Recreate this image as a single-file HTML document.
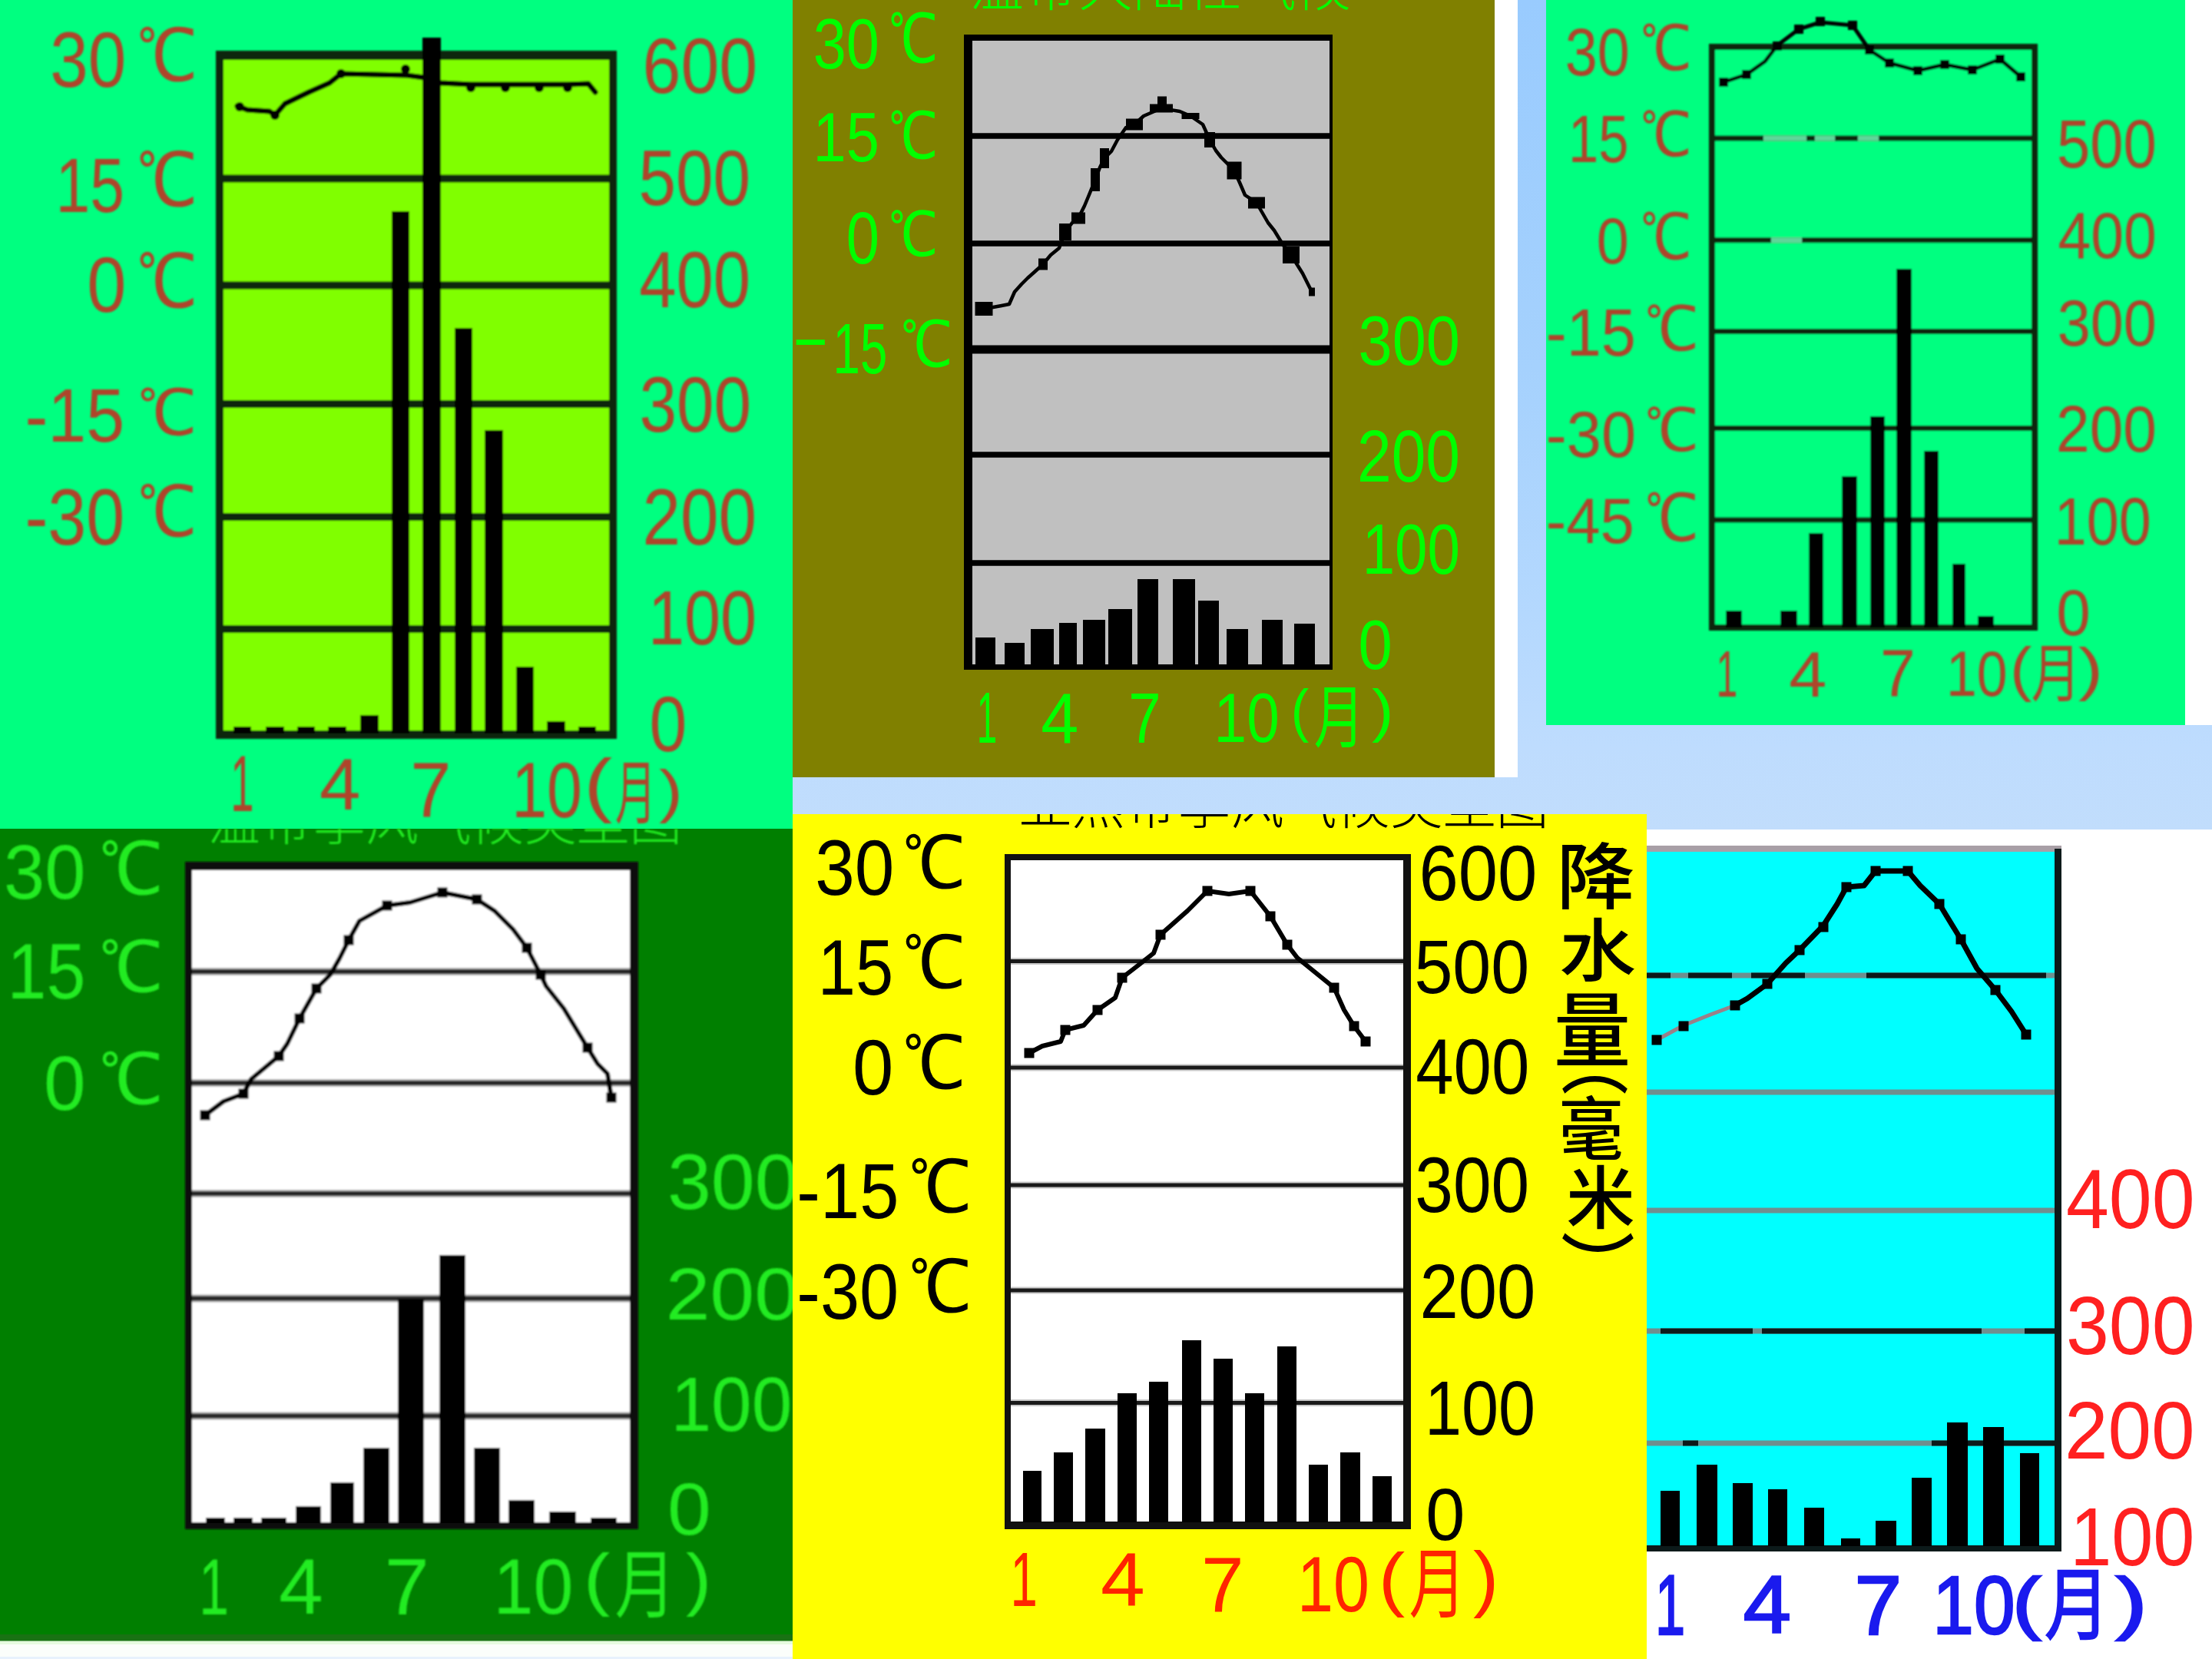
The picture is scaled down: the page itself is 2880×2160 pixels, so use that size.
<!DOCTYPE html>
<html><head><meta charset="utf-8"><title>climate charts</title>
<style>html,body{margin:0;padding:0;background:#fff;overflow:hidden;} svg{display:block;}</style></head>
<body><svg width="2880" height="2160" viewBox="0 0 2880 2160">
<defs><linearGradient id="bg" x1="0" y1="0" x2="0" y2="1"><stop offset="0" stop-color="#99cbfe"/><stop offset="0.222" stop-color="#a5d1fd"/><stop offset="0.37" stop-color="#b4d8fe"/><stop offset="0.45" stop-color="#bedcfe"/><stop offset="0.5" stop-color="#c1ddfc"/><stop offset="1" stop-color="#c8e0fa"/></linearGradient><clipPath id="c0"><rect x="0" y="1079" width="1032" height="1057"/></clipPath><clipPath id="c1"><rect x="1032" y="1060" width="1112" height="1100"/></clipPath><filter id="soft" x="-2%" y="-2%" width="104%" height="104%"><feGaussianBlur stdDeviation="1.3"/></filter><filter id="soft2" x="-2%" y="-2%" width="104%" height="104%"><feGaussianBlur stdDeviation="0.7"/></filter></defs>
<rect x="0" y="0" width="2880" height="2160" fill="url(#bg)" />
<rect x="1946" y="0" width="30" height="1012" fill="#ffffff" />
<rect x="2845" y="0" width="35" height="944" fill="#ffffff" />
<rect x="2144" y="1080" width="736" height="1080" fill="#ffffff" />
<rect x="0" y="2136" width="1032" height="24" fill="#fbfefb" />
<rect x="0" y="2136" width="1032" height="5" fill="#e6fbe0" />
<rect x="0" y="2157" width="1032" height="3" fill="#e8f2fd" />
<rect x="0" y="0" width="1032" height="1079" fill="#00ff80" />
<g filter="url(#soft)">
<rect x="281" y="66" width="522" height="896" fill="#0a280c" />
<rect x="291" y="78" width="502" height="873" fill="#80ff00" />
<rect x="291" y="227.5" width="502" height="10.0" fill="#0a280c" />
<rect x="291" y="366.5" width="502" height="10.0" fill="#0a280c" />
<rect x="291" y="521.0" width="502" height="10.0" fill="#0a280c" />
<rect x="291" y="668.0" width="502" height="10.0" fill="#0a280c" />
<rect x="291" y="814.0" width="502" height="10.0" fill="#0a280c" />
<rect x="304" y="946" width="23" height="9" fill="#000" />
<rect x="346" y="946" width="24" height="9" fill="#000" />
<rect x="387" y="946" width="23" height="9" fill="#000" />
<rect x="427" y="946" width="24" height="9" fill="#000" />
<rect x="469" y="931" width="24" height="24" fill="#000" />
<rect x="510" y="275" width="23" height="680" fill="#000" />
<rect x="550" y="49" width="24" height="906" fill="#000" />
<rect x="592" y="427" width="23" height="528" fill="#000" />
<rect x="631" y="560" width="24" height="395" fill="#000" />
<rect x="672" y="868" width="23" height="87" fill="#000" />
<rect x="712" y="939" width="24" height="16" fill="#000" />
<rect x="753" y="946" width="23" height="9" fill="#000" />
<polyline points="309,138 322,143 351,145 358,150 371,135 402,120 429,108 444,96 530,98 552,101 574,108 613,110 658,110 702,110 739,110 766,109 775,120" fill="none" stroke="#000" stroke-width="7" stroke-linejoin="round" stroke-linecap="round" />
<circle cx="312" cy="139" r="6" fill="#000"/>
<circle cx="358" cy="150" r="6" fill="#000"/>
<circle cx="444" cy="96" r="6" fill="#000"/>
<circle cx="528" cy="90" r="6" fill="#000"/>
<circle cx="613" cy="114" r="6" fill="#000"/>
<circle cx="658" cy="114" r="6" fill="#000"/>
<circle cx="702" cy="114" r="6" fill="#000"/>
<circle cx="739" cy="114" r="6" fill="#000"/>
<text transform="translate(65.3,113.0) scale(0.877,1)" font-size="101.4" fill="#ae452c" font-family="'Liberation Sans',sans-serif" >30</text>
<text transform="translate(178.6,105.1) scale(0.890,1)" font-size="94.8" fill="#ae452c" font-family="'Liberation Sans','WenQuanYi Zen Hei',sans-serif" >℃</text>
<text transform="translate(72.4,276.0) scale(0.805,1)" font-size="100.0" fill="#ae452c" font-family="'Liberation Sans',sans-serif" >15</text>
<text transform="translate(178.6,268.1) scale(0.866,1)" font-size="97.4" fill="#ae452c" font-family="'Liberation Sans','WenQuanYi Zen Hei',sans-serif" >℃</text>
<text transform="translate(113.2,406.0) scale(0.906,1)" font-size="101.4" fill="#ae452c" font-family="'Liberation Sans',sans-serif" >0</text>
<text transform="translate(178.6,400.1) scale(0.866,1)" font-size="97.4" fill="#ae452c" font-family="'Liberation Sans','WenQuanYi Zen Hei',sans-serif" >℃</text>
<text transform="translate(32.4,575.0) scale(0.911,1)" font-size="98.6" fill="#ae452c" font-family="'Liberation Sans',sans-serif" >-15</text>
<text transform="translate(179.7,566.3) scale(0.986,1)" font-size="83.1" fill="#ae452c" font-family="'Liberation Sans','WenQuanYi Zen Hei',sans-serif" >℃</text>
<text transform="translate(32.4,709.0) scale(0.862,1)" font-size="104.2" fill="#ae452c" font-family="'Liberation Sans',sans-serif" >-30</text>
<text transform="translate(179.7,698.2) scale(0.889,1)" font-size="92.2" fill="#ae452c" font-family="'Liberation Sans','WenQuanYi Zen Hei',sans-serif" >℃</text>
<text transform="translate(836.5,121.0) scale(0.873,1)" font-size="102.8" fill="#ae452c" font-family="'Liberation Sans',sans-serif" >600</text>
<text transform="translate(831.5,267.0) scale(0.861,1)" font-size="101.4" fill="#ae452c" font-family="'Liberation Sans',sans-serif" >500</text>
<text transform="translate(832.3,400.0) scale(0.833,1)" font-size="104.2" fill="#ae452c" font-family="'Liberation Sans',sans-serif" >400</text>
<text transform="translate(832.4,562.0) scale(0.850,1)" font-size="102.8" fill="#ae452c" font-family="'Liberation Sans',sans-serif" >300</text>
<text transform="translate(836.5,709.0) scale(0.855,1)" font-size="104.2" fill="#ae452c" font-family="'Liberation Sans',sans-serif" >200</text>
<text transform="translate(844.1,839.0) scale(0.845,1)" font-size="100.0" fill="#ae452c" font-family="'Liberation Sans',sans-serif" >100</text>
<text transform="translate(845.4,978.0) scale(0.865,1)" font-size="101.4" fill="#ae452c" font-family="'Liberation Sans',sans-serif" >0</text>
<text transform="translate(300.2,1056.0) scale(0.523,1)" font-size="104.3" fill="#ae452c" font-family="'Liberation Sans',sans-serif" >1</text>
<text transform="translate(416.1,1054.0) scale(1.019,1)" font-size="94.3" fill="#ae452c" font-family="'Liberation Sans',sans-serif" >4</text>
<text transform="translate(534.2,1064.0) scale(0.943,1)" font-size="101.4" fill="#ae452c" font-family="'Liberation Sans',sans-serif" >7</text>
<text transform="translate(666.2,1064.0) scale(0.813,1)" font-size="101.4" fill="#ae452c" font-family="'Liberation Sans',sans-serif" >10</text>
<text transform="translate(760.3,1053.3) scale(1.187,1)" font-size="93.6" fill="#ae452c" font-family="'Liberation Sans',sans-serif" >(</text>
<text transform="translate(800.9,1064.8) scale(0.584,1)" font-size="90.9" fill="#ae452c" font-family="'Liberation Sans','Noto Sans CJK SC',sans-serif" >月</text>
<text transform="translate(858.0,1055.9) scale(1.212,1)" font-size="76.6" fill="#ae452c" font-family="'Liberation Sans',sans-serif" >)</text>
</g>
<rect x="1032" y="0" width="914" height="1012" fill="#808000" />
<text transform="translate(1262.2,7.7) scale(1.011,1)" font-size="70.2" fill="#00ff00" font-family="'Liberation Sans','Noto Sans CJK SC',sans-serif" font-weight="300" >温带大陆性气候</text>
<rect x="1255" y="45" width="480" height="827" fill="#000" />
<rect x="1266" y="53" width="465" height="812" fill="#c0c0c0" />
<rect x="1266" y="173.25" width="465" height="7.5" fill="#000" />
<rect x="1266" y="313.25" width="465" height="7.5" fill="#000" />
<rect x="1266" y="449.5" width="465" height="11.0" fill="#000" />
<rect x="1266" y="588.25" width="465" height="7.5" fill="#000" />
<rect x="1266" y="729.25" width="465" height="7.5" fill="#000" />
<rect x="1270" y="830" width="26" height="35" fill="#000" />
<rect x="1308" y="837" width="26" height="28" fill="#000" />
<rect x="1342" y="819" width="30" height="46" fill="#000" />
<rect x="1379" y="811" width="23" height="54" fill="#000" />
<rect x="1410" y="807" width="29" height="58" fill="#000" />
<rect x="1443" y="793" width="31" height="72" fill="#000" />
<rect x="1481" y="754" width="27" height="111" fill="#000" />
<rect x="1527" y="754" width="29" height="111" fill="#000" />
<rect x="1560" y="782" width="27" height="83" fill="#000" />
<rect x="1597" y="819" width="28" height="46" fill="#000" />
<rect x="1643" y="807" width="27" height="58" fill="#000" />
<rect x="1685" y="812" width="27" height="53" fill="#000" />
<polyline points="1282,402 1304,398 1314,396 1321,380 1330,370 1338,362 1347,354 1358,344 1368,332 1379,323 1387,302 1396,290 1404,284 1412,268 1417,256 1426,234 1432,218 1438,206 1447,197 1455,182 1466,166 1477,162 1489,151 1512,141 1536,145 1550,151 1566,162 1575,182 1583,196 1590,205 1607,222 1615,240 1621,254 1636,264 1651,290 1659,300 1670,318 1681,332 1696,356 1708,380" fill="none" stroke="#000" stroke-width="4.5" stroke-linejoin="round" stroke-linecap="round" stroke-linejoin="miter" stroke-linecap="square"/>
<rect x="1269.5" y="393.0" width="23.0" height="18.0" fill="#000" />
<rect x="1352.0" y="336.5" width="12.0" height="15.0" fill="#000" />
<rect x="1379.0" y="291.0" width="16.0" height="22.0" fill="#000" />
<rect x="1395.0" y="276.5" width="18.0" height="15.0" fill="#000" />
<rect x="1420.0" y="219.0" width="12.0" height="30.0" fill="#000" />
<rect x="1432.0" y="193.0" width="12.0" height="26.0" fill="#000" />
<rect x="1466.0" y="154.5" width="22.0" height="15.0" fill="#000" />
<rect x="1497.0" y="135.5" width="30.0" height="11.0" fill="#000" />
<rect x="1507.0" y="125.5" width="12.0" height="11.0" fill="#000" />
<rect x="1538.5" y="147.0" width="23.0" height="8.0" fill="#000" />
<rect x="1568.0" y="172.0" width="14.0" height="20.0" fill="#000" />
<rect x="1597.5" y="210.5" width="19.0" height="23.0" fill="#000" />
<rect x="1625.0" y="256.5" width="22.0" height="15.0" fill="#000" />
<rect x="1670.0" y="321.0" width="22.0" height="22.0" fill="#000" />
<rect x="1704.0" y="374.5" width="8.0" height="11.0" fill="#000" />
<text transform="translate(1058.7,89.1) scale(0.833,1)" font-size="93.0" fill="#00ff00" font-family="'Liberation Sans',sans-serif" >30</text>
<text transform="translate(1157.3,81.2) scale(0.778,1)" font-size="88.3" fill="#00ff00" font-family="'Liberation Sans','WenQuanYi Zen Hei',sans-serif" >℃</text>
<text transform="translate(1058.6,210.1) scale(0.848,1)" font-size="91.4" fill="#00ff00" font-family="'Liberation Sans',sans-serif" >15</text>
<text transform="translate(1157.3,206.3) scale(0.814,1)" font-size="84.4" fill="#00ff00" font-family="'Liberation Sans','WenQuanYi Zen Hei',sans-serif" >℃</text>
<text transform="translate(1101.7,343.0) scale(0.810,1)" font-size="95.8" fill="#00ff00" font-family="'Liberation Sans',sans-serif" >0</text>
<text transform="translate(1157.3,333.4) scale(0.853,1)" font-size="80.5" fill="#00ff00" font-family="'Liberation Sans','WenQuanYi Zen Hei',sans-serif" >℃</text>
<text transform="translate(1029.9,469.1) scale(1.737,1)" font-size="87.5" fill="#00ff00" font-family="'Liberation Sans',sans-serif" >-</text>
<text transform="translate(1084.5,486.1) scale(0.685,1)" font-size="92.9" fill="#00ff00" font-family="'Liberation Sans',sans-serif" >15</text>
<text transform="translate(1173.1,477.3) scale(0.870,1)" font-size="83.1" fill="#00ff00" font-family="'Liberation Sans','WenQuanYi Zen Hei',sans-serif" >℃</text>
<text transform="translate(1768.6,475.1) scale(0.866,1)" font-size="91.5" fill="#00ff00" font-family="'Liberation Sans',sans-serif" >300</text>
<text transform="translate(1767.0,627.0) scale(0.826,1)" font-size="97.2" fill="#00ff00" font-family="'Liberation Sans',sans-serif" >200</text>
<text transform="translate(1773.7,747.1) scale(0.819,1)" font-size="93.0" fill="#00ff00" font-family="'Liberation Sans',sans-serif" >100</text>
<text transform="translate(1768.6,871.1) scale(0.883,1)" font-size="90.1" fill="#00ff00" font-family="'Liberation Sans',sans-serif" >0</text>
<text transform="translate(1271.7,967.0) scale(0.507,1)" font-size="94.2" fill="#00ff00" font-family="'Liberation Sans',sans-serif" >1</text>
<text transform="translate(1355.2,967.0) scale(0.950,1)" font-size="92.9" fill="#00ff00" font-family="'Liberation Sans',sans-serif" >4</text>
<text transform="translate(1469.2,967.0) scale(0.819,1)" font-size="92.9" fill="#00ff00" font-family="'Liberation Sans',sans-serif" >7</text>
<text transform="translate(1580.6,966.1) scale(0.836,1)" font-size="91.5" fill="#00ff00" font-family="'Liberation Sans',sans-serif" >10</text>
<text transform="translate(1680.8,950.9) scale(0.919,1)" font-size="76.6" fill="#00ff00" font-family="'Liberation Sans',sans-serif" >(</text>
<text transform="translate(1710.7,965.9) scale(0.729,1)" font-size="89.8" fill="#00ff00" font-family="'Liberation Sans','Noto Sans CJK SC',sans-serif" >月</text>
<text transform="translate(1786.0,950.9) scale(1.119,1)" font-size="76.6" fill="#00ff00" font-family="'Liberation Sans',sans-serif" >)</text>
<rect x="2013" y="0" width="832" height="944" fill="#00ff80" />
<g filter="url(#soft)">
<rect x="2225" y="57" width="428" height="764" fill="#0a280c" />
<rect x="2233" y="65" width="412" height="748" fill="#00ff80" />
<rect x="2233" y="176.5" width="412" height="7.0" fill="#0a280c" />
<rect x="2233" y="309.2" width="412" height="7.0" fill="#0a280c" />
<rect x="2233" y="428.0" width="412" height="7.0" fill="#0a280c" />
<rect x="2233" y="554.0" width="412" height="7.0" fill="#0a280c" />
<rect x="2233" y="673.5" width="412" height="7.0" fill="#0a280c" />
<rect x="2296" y="176.5" width="56" height="7.0" fill="#5fd69a" />
<rect x="2363" y="176.5" width="26" height="7.0" fill="#5fd69a" />
<rect x="2419" y="176.5" width="27" height="7.0" fill="#5fd69a" />
<rect x="2306" y="309.2" width="40" height="7.0" fill="#5fd69a" />
<rect x="2247" y="795" width="21" height="22" fill="#000" />
<rect x="2318" y="795" width="22" height="22" fill="#000" />
<rect x="2355" y="694" width="19" height="123" fill="#000" />
<rect x="2398" y="620" width="20" height="197" fill="#000" />
<rect x="2435" y="542" width="19" height="275" fill="#000" />
<rect x="2469" y="350" width="20" height="467" fill="#000" />
<rect x="2505" y="587" width="19" height="230" fill="#000" />
<rect x="2542" y="734" width="17" height="83" fill="#000" />
<rect x="2575" y="802" width="21" height="15" fill="#000" />
<polyline points="2244,107 2274,97 2298,80 2314,59 2342,38 2370,29 2412,33 2434,65 2460,82 2497,92 2532,84 2568,91 2604,77 2631,100" fill="none" stroke="#000" stroke-width="5" stroke-linejoin="round" stroke-linecap="round" />
<rect x="2238.0" y="101.0" width="12.0" height="12.0" fill="#000" />
<rect x="2268.0" y="91.0" width="12.0" height="12.0" fill="#000" />
<rect x="2308.0" y="54.0" width="12.0" height="12.0" fill="#000" />
<rect x="2336.0" y="32.0" width="12.0" height="12.0" fill="#000" />
<rect x="2364.0" y="22.0" width="12.0" height="12.0" fill="#000" />
<rect x="2406.0" y="27.0" width="12.0" height="12.0" fill="#000" />
<rect x="2428.0" y="59.0" width="12.0" height="12.0" fill="#000" />
<rect x="2454.0" y="76.0" width="12.0" height="12.0" fill="#000" />
<rect x="2491.0" y="86.0" width="12.0" height="12.0" fill="#000" />
<rect x="2526.0" y="78.0" width="12.0" height="12.0" fill="#000" />
<rect x="2562.0" y="85.0" width="12.0" height="12.0" fill="#000" />
<rect x="2598.0" y="71.0" width="12.0" height="12.0" fill="#000" />
<rect x="2625.0" y="94.0" width="12.0" height="12.0" fill="#000" />
<text transform="translate(2037.7,98.1) scale(0.865,1)" font-size="87.3" fill="#ae452c" font-family="'Liberation Sans',sans-serif" >30</text>
<text transform="translate(2136.2,91.4) scale(0.869,1)" font-size="81.8" fill="#ae452c" font-family="'Liberation Sans','WenQuanYi Zen Hei',sans-serif" >℃</text>
<text transform="translate(2042.1,211.1) scale(0.810,1)" font-size="87.1" fill="#ae452c" font-family="'Liberation Sans',sans-serif" >15</text>
<text transform="translate(2136.2,203.4) scale(0.883,1)" font-size="80.5" fill="#ae452c" font-family="'Liberation Sans','WenQuanYi Zen Hei',sans-serif" >℃</text>
<text transform="translate(2078.7,343.1) scale(0.879,1)" font-size="85.9" fill="#ae452c" font-family="'Liberation Sans',sans-serif" >0</text>
<text transform="translate(2136.2,337.3) scale(0.855,1)" font-size="83.1" fill="#ae452c" font-family="'Liberation Sans','WenQuanYi Zen Hei',sans-serif" >℃</text>
<text transform="translate(2012.8,463.1) scale(0.930,1)" font-size="87.1" fill="#ae452c" font-family="'Liberation Sans',sans-serif" >-15</text>
<text transform="translate(2142.0,456.4) scale(0.928,1)" font-size="80.5" fill="#ae452c" font-family="'Liberation Sans','WenQuanYi Zen Hei',sans-serif" >℃</text>
<text transform="translate(2012.8,595.1) scale(0.944,1)" font-size="85.9" fill="#ae452c" font-family="'Liberation Sans',sans-serif" >-30</text>
<text transform="translate(2142.0,587.4) scale(0.959,1)" font-size="77.9" fill="#ae452c" font-family="'Liberation Sans','WenQuanYi Zen Hei',sans-serif" >℃</text>
<text transform="translate(2012.8,707.2) scale(0.958,1)" font-size="83.1" fill="#ae452c" font-family="'Liberation Sans',sans-serif" >-45</text>
<text transform="translate(2142.0,704.3) scale(0.871,1)" font-size="85.7" fill="#ae452c" font-family="'Liberation Sans','WenQuanYi Zen Hei',sans-serif" >℃</text>
<text transform="translate(2677.9,218.1) scale(0.878,1)" font-size="88.7" fill="#ae452c" font-family="'Liberation Sans',sans-serif" >500</text>
<text transform="translate(2679.5,336.1) scale(0.895,1)" font-size="85.9" fill="#ae452c" font-family="'Liberation Sans',sans-serif" >400</text>
<text transform="translate(2678.7,450.1) scale(0.901,1)" font-size="85.9" fill="#ae452c" font-family="'Liberation Sans',sans-serif" >300</text>
<text transform="translate(2677.1,588.2) scale(0.927,1)" font-size="84.5" fill="#ae452c" font-family="'Liberation Sans',sans-serif" >200</text>
<text transform="translate(2674.7,709.1) scale(0.865,1)" font-size="87.3" fill="#ae452c" font-family="'Liberation Sans',sans-serif" >100</text>
<text transform="translate(2677.6,827.1) scale(0.926,1)" font-size="85.9" fill="#ae452c" font-family="'Liberation Sans',sans-serif" >0</text>
<text transform="translate(2234.5,907.0) scale(0.585,1)" font-size="85.5" fill="#ae452c" font-family="'Liberation Sans',sans-serif" >1</text>
<text transform="translate(2329.2,907.0) scale(1.047,1)" font-size="84.3" fill="#ae452c" font-family="'Liberation Sans',sans-serif" >4</text>
<text transform="translate(2447.9,907.0) scale(0.948,1)" font-size="87.1" fill="#ae452c" font-family="'Liberation Sans',sans-serif" >7</text>
<text transform="translate(2534.0,906.2) scale(0.861,1)" font-size="83.1" fill="#ae452c" font-family="'Liberation Sans',sans-serif" >10</text>
<text transform="translate(2616.9,897.7) scale(1.097,1)" font-size="77.7" fill="#ae452c" font-family="'Liberation Sans',sans-serif" >(</text>
<text transform="translate(2644.7,905.6) scale(0.785,1)" font-size="81.8" fill="#ae452c" font-family="'Liberation Sans','Noto Sans CJK SC',sans-serif" >月</text>
<text transform="translate(2706.0,896.9) scale(1.259,1)" font-size="76.6" fill="#ae452c" font-family="'Liberation Sans',sans-serif" >)</text>
</g>
<rect x="0" y="1079" width="1032" height="1057" fill="#007f00" />
<rect x="0" y="2128" width="1032" height="8.5" fill="#197213" />
<g filter="url(#soft)">
<g clip-path="url(#c0)">
<text transform="translate(270.3,1093.7) scale(0.978,1)" font-size="70.2" fill="#22ec22" font-family="'Liberation Sans','Noto Sans CJK SC',sans-serif" font-weight="300" >温带季风气候类型图</text>
</g>
<rect x="241" y="1122" width="590" height="869" fill="#111" />
<rect x="250" y="1133" width="570" height="849" fill="#ffffff" />
<rect x="250" y="1260.0" width="570" height="10.0" fill="#b0b0b0" />
<rect x="250" y="1262.0" width="570" height="6.0" fill="#262626" />
<rect x="250" y="1405.0" width="570" height="10.0" fill="#b0b0b0" />
<rect x="250" y="1407.0" width="570" height="6.0" fill="#262626" />
<rect x="250" y="1549.0" width="570" height="10.0" fill="#b0b0b0" />
<rect x="250" y="1551.0" width="570" height="6.0" fill="#262626" />
<rect x="250" y="1685.5" width="570" height="10.0" fill="#b0b0b0" />
<rect x="250" y="1687.5" width="570" height="6.0" fill="#262626" />
<rect x="250" y="1838.5" width="570" height="10.0" fill="#b0b0b0" />
<rect x="250" y="1840.5" width="570" height="6.0" fill="#262626" />
<rect x="268" y="1976" width="25" height="7" fill="#000" />
<rect x="304" y="1976" width="25" height="7" fill="#000" />
<rect x="340" y="1976" width="33" height="7" fill="#000" />
<rect x="385" y="1961" width="33" height="22" fill="#000" />
<rect x="430" y="1930" width="31" height="53" fill="#000" />
<rect x="473" y="1885" width="34" height="98" fill="#000" />
<rect x="518" y="1691" width="34" height="292" fill="#000" />
<rect x="572" y="1634" width="34" height="349" fill="#000" />
<rect x="617" y="1885" width="34" height="98" fill="#000" />
<rect x="662" y="1953" width="34" height="30" fill="#000" />
<rect x="715" y="1968" width="35" height="15" fill="#000" />
<rect x="769" y="1976" width="34" height="7" fill="#000" />
<polyline points="267,1452 291,1434 317,1424 327,1405 363,1375 374,1359 390,1326 412,1287 430,1269 442,1248 454,1224 468,1199 504,1179 534,1175 576,1162 621,1171 644,1186 668,1210 686,1234 704,1269 711,1284 734,1313 765,1364 778,1385 791,1398 796,1429" fill="none" stroke="#000" stroke-width="6" stroke-linejoin="round" stroke-linecap="round" />
<rect x="260.5" y="1445.5" width="13.0" height="13.0" fill="#000" />
<rect x="310.5" y="1417.5" width="13.0" height="13.0" fill="#000" />
<rect x="356.5" y="1368.5" width="13.0" height="13.0" fill="#000" />
<rect x="383.5" y="1319.5" width="13.0" height="13.0" fill="#000" />
<rect x="405.5" y="1280.5" width="13.0" height="13.0" fill="#000" />
<rect x="447.5" y="1217.5" width="13.0" height="13.0" fill="#000" />
<rect x="497.5" y="1172.5" width="13.0" height="13.0" fill="#000" />
<rect x="569.5" y="1155.5" width="13.0" height="13.0" fill="#000" />
<rect x="614.5" y="1164.5" width="13.0" height="13.0" fill="#000" />
<rect x="679.5" y="1227.5" width="13.0" height="13.0" fill="#000" />
<rect x="697.5" y="1262.5" width="13.0" height="13.0" fill="#000" />
<rect x="758.5" y="1357.5" width="13.0" height="13.0" fill="#000" />
<rect x="789.5" y="1422.5" width="13.0" height="13.0" fill="#000" />
<text transform="translate(5.1,1170.0) scale(0.956,1)" font-size="100.0" fill="#22ec22" font-family="'Liberation Sans',sans-serif" >30</text>
<text transform="translate(129.4,1164.1) scale(0.940,1)" font-size="94.8" fill="#22ec22" font-family="'Liberation Sans','WenQuanYi Zen Hei',sans-serif" >℃</text>
<text transform="translate(9.6,1300.0) scale(0.889,1)" font-size="102.9" fill="#22ec22" font-family="'Liberation Sans',sans-serif" >15</text>
<text transform="translate(129.4,1291.2) scale(0.967,1)" font-size="92.2" fill="#22ec22" font-family="'Liberation Sans','WenQuanYi Zen Hei',sans-serif" >℃</text>
<text transform="translate(57.1,1445.0) scale(0.980,1)" font-size="100.0" fill="#22ec22" font-family="'Liberation Sans',sans-serif" >0</text>
<text transform="translate(129.4,1437.2) scale(0.967,1)" font-size="92.2" fill="#22ec22" font-family="'Liberation Sans','WenQuanYi Zen Hei',sans-serif" >℃</text>
<text transform="translate(868.9,1574.0) scale(1.009,1)" font-size="101.4" fill="#22ec22" font-family="'Liberation Sans',sans-serif" >300</text>
<text transform="translate(866.8,1718.0) scale(1.067,1)" font-size="97.2" fill="#22ec22" font-family="'Liberation Sans',sans-serif" >200</text>
<text transform="translate(873.4,1863.0) scale(0.947,1)" font-size="100.0" fill="#22ec22" font-family="'Liberation Sans',sans-serif" >100</text>
<text transform="translate(868.9,1998.0) scale(1.050,1)" font-size="97.2" fill="#22ec22" font-family="'Liberation Sans',sans-serif" >0</text>
<text transform="translate(259.1,2102.0) scale(0.675,1)" font-size="104.3" fill="#22ec22" font-family="'Liberation Sans',sans-serif" >1</text>
<text transform="translate(362.9,2101.0) scale(1.025,1)" font-size="101.4" fill="#22ec22" font-family="'Liberation Sans',sans-serif" >4</text>
<text transform="translate(500.8,2102.0) scale(1.014,1)" font-size="102.9" fill="#22ec22" font-family="'Liberation Sans',sans-serif" >7</text>
<text transform="translate(642.5,2101.0) scale(0.921,1)" font-size="101.4" fill="#22ec22" font-family="'Liberation Sans',sans-serif" >10</text>
<text transform="translate(759.8,2085.5) scale(1.174,1)" font-size="88.3" fill="#22ec22" font-family="'Liberation Sans',sans-serif" >(</text>
<text transform="translate(800.4,2098.2) scale(0.808,1)" font-size="97.7" fill="#22ec22" font-family="'Liberation Sans','Noto Sans CJK SC',sans-serif" >月</text>
<text transform="translate(893.0,2085.5) scale(1.133,1)" font-size="88.3" fill="#22ec22" font-family="'Liberation Sans',sans-serif" >)</text>
</g>
<rect x="1032" y="1060" width="1112" height="1100" fill="#ffff00" />
<g clip-path="url(#c1)">
<text transform="translate(1326.6,1071.6) scale(0.968,1)" font-size="71.3" fill="#000000" font-family="'Liberation Sans','Noto Sans CJK SC',sans-serif" font-weight="300" >亚热带季风气候类型图</text>
</g>
<rect x="1308" y="1112" width="529" height="879" fill="#111" />
<rect x="1316" y="1120" width="511" height="861" fill="#ffffff" />
<rect x="1316" y="1247.0" width="511" height="9.0" fill="#c8c8c8" />
<rect x="1316" y="1249.0" width="511" height="5.0" fill="#1a1a1a" />
<rect x="1316" y="1385.5" width="511" height="9.0" fill="#c8c8c8" />
<rect x="1316" y="1387.5" width="511" height="5.0" fill="#1a1a1a" />
<rect x="1316" y="1538.5" width="511" height="9.0" fill="#c8c8c8" />
<rect x="1316" y="1540.5" width="511" height="5.0" fill="#1a1a1a" />
<rect x="1316" y="1675.5" width="511" height="9.0" fill="#c8c8c8" />
<rect x="1316" y="1677.5" width="511" height="5.0" fill="#1a1a1a" />
<rect x="1316" y="1822.0" width="511" height="9.0" fill="#c8c8c8" />
<rect x="1316" y="1824.0" width="511" height="5.0" fill="#1a1a1a" />
<rect x="1332" y="1915" width="24" height="67" fill="#000" />
<rect x="1372" y="1891" width="25" height="91" fill="#000" />
<rect x="1413" y="1860" width="26" height="122" fill="#000" />
<rect x="1455" y="1814" width="25" height="168" fill="#000" />
<rect x="1496" y="1799" width="25" height="183" fill="#000" />
<rect x="1539" y="1745" width="25" height="237" fill="#000" />
<rect x="1580" y="1769" width="25" height="213" fill="#000" />
<rect x="1621" y="1814" width="25" height="168" fill="#000" />
<rect x="1663" y="1753" width="25" height="229" fill="#000" />
<rect x="1704" y="1907" width="25" height="75" fill="#000" />
<rect x="1745" y="1891" width="26" height="91" fill="#000" />
<rect x="1787" y="1922" width="25" height="60" fill="#000" />
<polyline points="1340,1371 1357,1362 1381,1356 1387,1341 1411,1335 1429,1315 1452,1299 1461,1273 1483,1256 1502,1241 1511,1217 1546,1186 1572,1160 1600,1164 1628,1160 1654,1193 1676,1230 1689,1247 1737,1286 1750,1315 1763,1336 1778,1356" fill="none" stroke="#000" stroke-width="6" stroke-linejoin="round" stroke-linecap="round" />
<rect x="1333.5" y="1364.5" width="13.0" height="13.0" fill="#000" />
<rect x="1380.5" y="1334.5" width="13.0" height="13.0" fill="#000" />
<rect x="1422.5" y="1308.5" width="13.0" height="13.0" fill="#000" />
<rect x="1454.5" y="1266.5" width="13.0" height="13.0" fill="#000" />
<rect x="1504.5" y="1210.5" width="13.0" height="13.0" fill="#000" />
<rect x="1565.5" y="1153.5" width="13.0" height="13.0" fill="#000" />
<rect x="1621.5" y="1153.5" width="13.0" height="13.0" fill="#000" />
<rect x="1647.5" y="1186.5" width="13.0" height="13.0" fill="#000" />
<rect x="1669.5" y="1223.5" width="13.0" height="13.0" fill="#000" />
<rect x="1730.5" y="1279.5" width="13.0" height="13.0" fill="#000" />
<rect x="1756.5" y="1329.5" width="13.0" height="13.0" fill="#000" />
<rect x="1771.5" y="1349.5" width="13.0" height="13.0" fill="#000" />
<text transform="translate(1061.2,1165.0) scale(0.902,1)" font-size="102.8" fill="#000000" font-family="'Liberation Sans',sans-serif" >30</text>
<text transform="translate(1175.5,1156.1) scale(0.928,1)" font-size="94.8" fill="#000000" font-family="'Liberation Sans','WenQuanYi Zen Hei',sans-serif" >℃</text>
<text transform="translate(1064.8,1295.0) scale(0.860,1)" font-size="102.9" fill="#000000" font-family="'Liberation Sans',sans-serif" >15</text>
<text transform="translate(1175.5,1286.1) scale(0.928,1)" font-size="94.8" fill="#000000" font-family="'Liberation Sans','WenQuanYi Zen Hei',sans-serif" >℃</text>
<text transform="translate(1110.1,1425.0) scale(0.933,1)" font-size="102.8" fill="#000000" font-family="'Liberation Sans',sans-serif" >0</text>
<text transform="translate(1175.5,1417.1) scale(0.915,1)" font-size="96.1" fill="#000000" font-family="'Liberation Sans','WenQuanYi Zen Hei',sans-serif" >℃</text>
<text transform="translate(1037.3,1586.0) scale(0.895,1)" font-size="102.9" fill="#000000" font-family="'Liberation Sans',sans-serif" >-15</text>
<text transform="translate(1183.5,1578.1) scale(0.928,1)" font-size="94.8" fill="#000000" font-family="'Liberation Sans','WenQuanYi Zen Hei',sans-serif" >℃</text>
<text transform="translate(1037.3,1717.0) scale(0.895,1)" font-size="102.8" fill="#000000" font-family="'Liberation Sans',sans-serif" >-30</text>
<text transform="translate(1183.5,1708.1) scale(0.928,1)" font-size="94.8" fill="#000000" font-family="'Liberation Sans','WenQuanYi Zen Hei',sans-serif" >℃</text>
<text transform="translate(1847.4,1172.0) scale(0.910,1)" font-size="101.4" fill="#000000" font-family="'Liberation Sans',sans-serif" >600</text>
<text transform="translate(1841.4,1293.0) scale(0.911,1)" font-size="98.6" fill="#000000" font-family="'Liberation Sans',sans-serif" >500</text>
<text transform="translate(1843.2,1424.0) scale(0.875,1)" font-size="101.4" fill="#000000" font-family="'Liberation Sans',sans-serif" >400</text>
<text transform="translate(1842.3,1578.0) scale(0.880,1)" font-size="101.4" fill="#000000" font-family="'Liberation Sans',sans-serif" >300</text>
<text transform="translate(1848.5,1716.0) scale(0.904,1)" font-size="100.0" fill="#000000" font-family="'Liberation Sans',sans-serif" >200</text>
<text transform="translate(1855.0,1868.0) scale(0.864,1)" font-size="100.0" fill="#000000" font-family="'Liberation Sans',sans-serif" >100</text>
<text transform="translate(1856.2,2005.0) scale(0.945,1)" font-size="97.2" fill="#000000" font-family="'Liberation Sans',sans-serif" >0</text>
<text transform="translate(2026.8,1175.5) scale(1.079,1)" font-size="94.7" fill="#000000" font-family="'Liberation Sans','Noto Sans CJK SC',sans-serif" font-weight="500" >降</text>
<text transform="translate(2030.0,1270.1) scale(1.133,1)" font-size="88.3" fill="#000000" font-family="'Liberation Sans','Noto Sans CJK SC',sans-serif" font-weight="500" >水</text>
<text transform="translate(2023.0,1379.6) scale(0.947,1)" font-size="105.6" fill="#000000" font-family="'Liberation Sans','Noto Sans CJK SC',sans-serif" font-weight="500" >量</text>
<text transform="translate(2032.2,1417.4) scale(1.078,1)" font-size="82.1" fill="#000000" font-family="'Liberation Sans','Noto Sans CJK SC',sans-serif" font-weight="500" >︵</text>
<text transform="translate(2029.8,1502.9) scale(0.937,1)" font-size="89.4" fill="#000000" font-family="'Liberation Sans','Noto Sans CJK SC',sans-serif" font-weight="500" >毫</text>
<text transform="translate(2039.3,1592.1) scale(1.013,1)" font-size="88.3" fill="#000000" font-family="'Liberation Sans','Noto Sans CJK SC',sans-serif" font-weight="500" >米</text>
<text transform="translate(2032.1,1681.0) scale(1.085,1)" font-size="89.3" fill="#000000" font-family="'Liberation Sans','Noto Sans CJK SC',sans-serif" font-weight="500" >︶</text>
<text transform="translate(1315.5,2091.0) scale(0.636,1)" font-size="100.0" fill="#ff2400" font-family="'Liberation Sans',sans-serif" >1</text>
<text transform="translate(1432.9,2090.0) scale(1.054,1)" font-size="98.6" fill="#ff2400" font-family="'Liberation Sans',sans-serif" >4</text>
<text transform="translate(1564.0,2099.0) scale(0.972,1)" font-size="102.9" fill="#ff2400" font-family="'Liberation Sans',sans-serif" >7</text>
<text transform="translate(1689.1,2098.0) scale(0.833,1)" font-size="101.4" fill="#ff2400" font-family="'Liberation Sans',sans-serif" >10</text>
<text transform="translate(1794.8,2087.3) scale(1.108,1)" font-size="93.6" fill="#ff2400" font-family="'Liberation Sans',sans-serif" >(</text>
<text transform="translate(1834.5,2098.0) scale(0.741,1)" font-size="100.0" fill="#ff2400" font-family="'Liberation Sans','Noto Sans CJK SC',sans-serif" >月</text>
<text transform="translate(1918.0,2087.3) scale(1.068,1)" font-size="93.6" fill="#ff2400" font-family="'Liberation Sans',sans-serif" >)</text>
<rect x="2144" y="1101" width="540" height="919" fill="#a89fa6" />
<rect x="2144" y="1109" width="531" height="903" fill="#00ffff" />
<rect x="2675" y="1105" width="9" height="915" fill="#0c1a1a" />
<rect x="2144" y="2012" width="540" height="8" fill="#0c1a1a" />
<rect x="2144" y="1266.5" width="531" height="7.0" fill="#6f8f8f" />
<rect x="2144" y="1266.5" width="31" height="7.0" fill="#0c1a1a" />
<rect x="2198" y="1266.5" width="57" height="7.0" fill="#0c1a1a" />
<rect x="2280" y="1266.5" width="70" height="7.0" fill="#0c1a1a" />
<rect x="2430" y="1266.5" width="234" height="7.0" fill="#0c1a1a" />
<rect x="2144" y="1418.5" width="531" height="7.0" fill="#6f8f8f" />
<rect x="2144" y="1572.5" width="531" height="7.0" fill="#6f8f8f" />
<rect x="2144" y="1729.5" width="531" height="7.0" fill="#6f8f8f" />
<rect x="2162" y="1729.5" width="120" height="7.0" fill="#0c1a1a" />
<rect x="2294" y="1729.5" width="286" height="7.0" fill="#0c1a1a" />
<rect x="2636" y="1729.5" width="41" height="7.0" fill="#0c1a1a" />
<rect x="2144" y="1875.5" width="531" height="7.0" fill="#6f8f8f" />
<rect x="2191" y="1875.5" width="20" height="7.0" fill="#0c1a1a" />
<rect x="2515" y="1875.5" width="162" height="7.0" fill="#0c1a1a" />
<rect x="2162" y="1941" width="25" height="72" fill="#000" />
<rect x="2209" y="1907" width="27" height="106" fill="#000" />
<rect x="2256" y="1931" width="26" height="82" fill="#000" />
<rect x="2302" y="1939" width="25" height="74" fill="#000" />
<rect x="2349" y="1963" width="26" height="50" fill="#000" />
<rect x="2397" y="2003" width="25" height="10" fill="#000" />
<rect x="2442" y="1980" width="27" height="33" fill="#000" />
<rect x="2489" y="1924" width="26" height="89" fill="#000" />
<rect x="2535" y="1852" width="27" height="161" fill="#000" />
<rect x="2582" y="1858" width="27" height="155" fill="#000" />
<rect x="2630" y="1892" width="25" height="121" fill="#000" />
<polyline points="2157,1354 2192,1335 2227,1321 2259,1309" fill="none" stroke="#9a8088" stroke-width="5" stroke-linejoin="round" stroke-linecap="round" />
<polyline points="2259,1309 2275,1300 2301,1281 2325,1254 2343,1237 2374,1205 2392,1177 2404,1155 2427,1153 2442,1134 2484,1134 2500,1153 2525,1177 2553,1223 2574,1261 2598,1289 2619,1317 2638,1347" fill="none" stroke="#000" stroke-width="7" stroke-linejoin="round" stroke-linecap="round" />
<rect x="2150.5" y="1347.5" width="13.0" height="13.0" fill="#000" />
<rect x="2185.5" y="1329.5" width="13.0" height="13.0" fill="#000" />
<rect x="2252.5" y="1302.5" width="13.0" height="13.0" fill="#000" />
<rect x="2294.5" y="1274.5" width="13.0" height="13.0" fill="#000" />
<rect x="2336.5" y="1230.5" width="13.0" height="13.0" fill="#000" />
<rect x="2367.5" y="1200.5" width="13.0" height="13.0" fill="#000" />
<rect x="2397.5" y="1148.5" width="13.0" height="13.0" fill="#000" />
<rect x="2435.5" y="1127.5" width="13.0" height="13.0" fill="#000" />
<rect x="2477.5" y="1127.5" width="13.0" height="13.0" fill="#000" />
<rect x="2518.5" y="1170.5" width="13.0" height="13.0" fill="#000" />
<rect x="2546.5" y="1216.5" width="13.0" height="13.0" fill="#000" />
<rect x="2591.5" y="1282.5" width="13.0" height="13.0" fill="#000" />
<rect x="2631.5" y="1340.5" width="13.0" height="13.0" fill="#000" />
<text transform="translate(2690.0,1598.9) scale(0.926,1)" font-size="108.5" fill="#ff2020" font-family="'Liberation Sans',sans-serif" >400</text>
<text transform="translate(2690.0,1762.9) scale(0.939,1)" font-size="107.0" fill="#ff2020" font-family="'Liberation Sans',sans-serif" >300</text>
<text transform="translate(2687.9,1898.9) scale(0.963,1)" font-size="105.6" fill="#ff2020" font-family="'Liberation Sans',sans-serif" >200</text>
<text transform="translate(2695.2,2037.9) scale(0.909,1)" font-size="107.0" fill="#ff2020" font-family="'Liberation Sans',sans-serif" >100</text>
<text transform="translate(2155.1,2128.0) scale(0.631,1)" font-size="111.6" fill="#1a1aee" font-family="'Liberation Sans',sans-serif" stroke="#1a1aee" stroke-width="2.5">1</text>
<text transform="translate(2269.8,2126.0) scale(1.057,1)" font-size="105.7" fill="#1a1aee" font-family="'Liberation Sans',sans-serif" stroke="#1a1aee" stroke-width="2.5">4</text>
<text transform="translate(2414.5,2128.0) scale(1.021,1)" font-size="108.6" fill="#1a1aee" font-family="'Liberation Sans',sans-serif" stroke="#1a1aee" stroke-width="2.5">7</text>
<text transform="translate(2516.3,2126.9) scale(0.901,1)" font-size="107.0" fill="#1a1aee" font-family="'Liberation Sans',sans-serif" stroke="#1a1aee" stroke-width="2.5">10</text>
<text transform="translate(2620.3,2116.5) scale(1.258,1)" font-size="88.3" fill="#1a1aee" font-family="'Liberation Sans',sans-serif" stroke="#1a1aee" stroke-width="2.5">(</text>
<text transform="translate(2662.3,2125.8) scale(0.821,1)" font-size="102.3" fill="#1a1aee" font-family="'Liberation Sans','Noto Sans CJK SC',sans-serif" stroke="#1a1aee" stroke-width="2.5">月</text>
<text transform="translate(2755.0,2116.5) scale(1.375,1)" font-size="88.3" fill="#1a1aee" font-family="'Liberation Sans',sans-serif" stroke="#1a1aee" stroke-width="2.5">)</text>
</svg></body></html>
